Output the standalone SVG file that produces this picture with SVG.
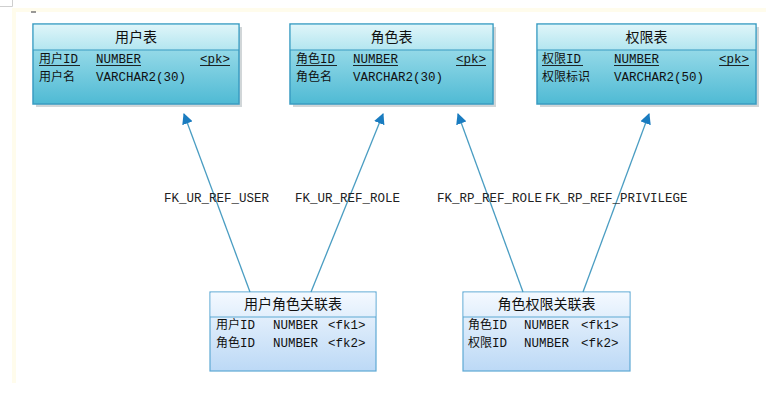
<svg xmlns="http://www.w3.org/2000/svg" width="775" height="406" viewBox="0 0 775 406">
<defs>
<linearGradient id="gHeadTop" x1="0" y1="0" x2="0" y2="1"><stop offset="0" stop-color="#dff5f9"/><stop offset="1" stop-color="#b3e6f0"/></linearGradient>
<linearGradient id="gBodyTop" x1="0" y1="0" x2="0" y2="1"><stop offset="0" stop-color="#b5e8f1"/><stop offset="1" stop-color="#4fbad4"/></linearGradient>
<linearGradient id="gHeadBot" x1="0" y1="0" x2="0" y2="1"><stop offset="0" stop-color="#f4f9ff"/><stop offset="1" stop-color="#e2effc"/></linearGradient>
<linearGradient id="gBodyBot" x1="0" y1="0" x2="0" y2="1"><stop offset="0" stop-color="#f3f8fe"/><stop offset="1" stop-color="#bcd9f6"/></linearGradient>
<marker id="arr" viewBox="0 0 10 10" refX="9" refY="5" markerWidth="11" markerHeight="11" markerUnits="userSpaceOnUse" orient="auto">
<path d="M0,0 L10,5 L0,10 z" fill="#1a7cc0"/>
</marker>
</defs>
<style>
.shadow{fill:#9aa4a8;opacity:.45}
.topbox{stroke:#3a9cc2;stroke-width:1.5}
.botbox{stroke:#5ea9d4;stroke-width:1.2}
.sep{stroke-width:1.2}
.title{font-family:"Noto Sans CJK SC","Noto Sans",sans-serif;font-size:14px;fill:#111;text-anchor:middle}
.row{font-family:"Liberation Mono","Noto Sans CJK SC",monospace;font-size:12.5px;fill:#111}
.cjk{font-family:"Noto Sans CJK SC",sans-serif;font-size:12px}
.ul{stroke:#111;stroke-width:0.9}
.lbl{font-family:"Liberation Mono",monospace;font-size:12.5px;fill:#222}
.conn{stroke:#4a9dc2;stroke-width:1.3;fill:none}
</style>
<rect x="0" y="0" width="775" height="406" fill="#ffffff"/>
<path d="M14,383 V10 H766" fill="none" stroke="#fffcec" stroke-width="4"/>
<path d="M0,6.5 H12.5 V0" fill="none" stroke="#cfcfcf" stroke-width="1"/>
<path d="M31,12 H36" stroke="#777" stroke-width="1.5"/>

<g id="t_user">
<rect class="shadow" x="36" y="27" width="206" height="80"/>
<rect x="33" y="24" width="206" height="80" fill="url(#gBodyTop)" class="topbox"/>
<rect x="33.75" y="24.75" width="204.5" height="25" fill="url(#gHeadTop)"/>
<line x1="33" y1="50" x2="239" y2="50" stroke="#3a9cc2" class="sep"/>
<text class="title" x="136" y="42">用户表</text>
<text class="row" x="39" y="63"><tspan class="cjk">用户</tspan>ID</text>
<text class="row" x="96" y="63">NUMBER</text>
<text class="row" x="200" y="63">&lt;pk&gt;</text>
<path class="ul" d="M39,65.5 H80 M96,65.5 H141 M200,65.5 H230"/>
<text class="row" x="39" y="81"><tspan class="cjk">用户名</tspan></text>
<text class="row" x="96" y="81">VARCHAR2(30)</text>
</g>

<g id="t_role">
<rect class="shadow" x="293" y="27" width="203" height="80"/>
<rect x="290" y="24" width="203" height="80" fill="url(#gBodyTop)" class="topbox"/>
<rect x="290.75" y="24.75" width="201.5" height="25" fill="url(#gHeadTop)"/>
<line x1="290" y1="50" x2="493" y2="50" stroke="#3a9cc2" class="sep"/>
<text class="title" x="391.5" y="42">角色表</text>
<text class="row" x="296" y="63"><tspan class="cjk">角色</tspan>ID</text>
<text class="row" x="353" y="63">NUMBER</text>
<text class="row" x="456" y="63">&lt;pk&gt;</text>
<path class="ul" d="M296,65.5 H337 M353,65.5 H398 M456,65.5 H486"/>
<text class="row" x="296" y="81"><tspan class="cjk">角色名</tspan></text>
<text class="row" x="353" y="81">VARCHAR2(30)</text>
</g>

<g id="t_priv">
<rect class="shadow" x="540" y="27" width="219" height="80"/>
<rect x="537" y="24" width="219" height="80" fill="url(#gBodyTop)" class="topbox"/>
<rect x="537.75" y="24.75" width="217.5" height="25" fill="url(#gHeadTop)"/>
<line x1="537" y1="50" x2="756" y2="50" stroke="#3a9cc2" class="sep"/>
<text class="title" x="646.5" y="42">权限表</text>
<text class="row" x="542" y="63"><tspan class="cjk">权限</tspan>ID</text>
<text class="row" x="614" y="63">NUMBER</text>
<text class="row" x="719" y="63">&lt;pk&gt;</text>
<path class="ul" d="M542,65.5 H583 M614,65.5 H659 M719,65.5 H749"/>
<text class="row" x="542" y="81"><tspan class="cjk">权限标识</tspan></text>
<text class="row" x="614" y="81">VARCHAR2(50)</text>
</g>

<g id="t_user_role">
<rect x="210" y="292" width="166" height="79" fill="url(#gBodyBot)" class="botbox"/>
<rect x="210.6" y="292.6" width="164.8" height="24" fill="url(#gHeadBot)"/>
<line x1="210" y1="317" x2="376" y2="317" stroke="#5ea9d4" class="sep"/>
<text class="title" x="293" y="309">用户角色关联表</text>
<text class="row" x="216" y="329"><tspan class="cjk">用户</tspan>ID</text>
<text class="row" x="273" y="329">NUMBER</text>
<text class="row" x="328" y="329">&lt;fk1&gt;</text>
<text class="row" x="216" y="347"><tspan class="cjk">角色</tspan>ID</text>
<text class="row" x="273" y="347">NUMBER</text>
<text class="row" x="328" y="347">&lt;fk2&gt;</text>
</g>

<g id="t_role_priv">
<rect x="463" y="292" width="167" height="79" fill="url(#gBodyBot)" class="botbox"/>
<rect x="463.6" y="292.6" width="165.8" height="24" fill="url(#gHeadBot)"/>
<line x1="463" y1="317" x2="630" y2="317" stroke="#5ea9d4" class="sep"/>
<text class="title" x="546.5" y="309">角色权限关联表</text>
<text class="row" x="468" y="329"><tspan class="cjk">角色</tspan>ID</text>
<text class="row" x="524" y="329">NUMBER</text>
<text class="row" x="581" y="329">&lt;fk1&gt;</text>
<text class="row" x="468" y="347"><tspan class="cjk">权限</tspan>ID</text>
<text class="row" x="524" y="347">NUMBER</text>
<text class="row" x="581" y="347">&lt;fk2&gt;</text>
</g>

<g id="connectors">
<line class="conn" x1="250" y1="292" x2="184" y2="114" marker-end="url(#arr)"/>
<line class="conn" x1="311" y1="292" x2="383" y2="114" marker-end="url(#arr)"/>
<line class="conn" x1="523" y1="292" x2="458" y2="114" marker-end="url(#arr)"/>
<line class="conn" x1="583" y1="292" x2="649" y2="114" marker-end="url(#arr)"/>
<text class="lbl" x="164" y="202">FK_UR_REF_USER</text>
<text class="lbl" x="295" y="202">FK_UR_REF_ROLE</text>
<text class="lbl" x="437" y="202">FK_RP_REF_ROLE</text>
<text class="lbl" x="545" y="202">FK_RP_REF_PRIVILEGE</text>
</g>
</svg>
